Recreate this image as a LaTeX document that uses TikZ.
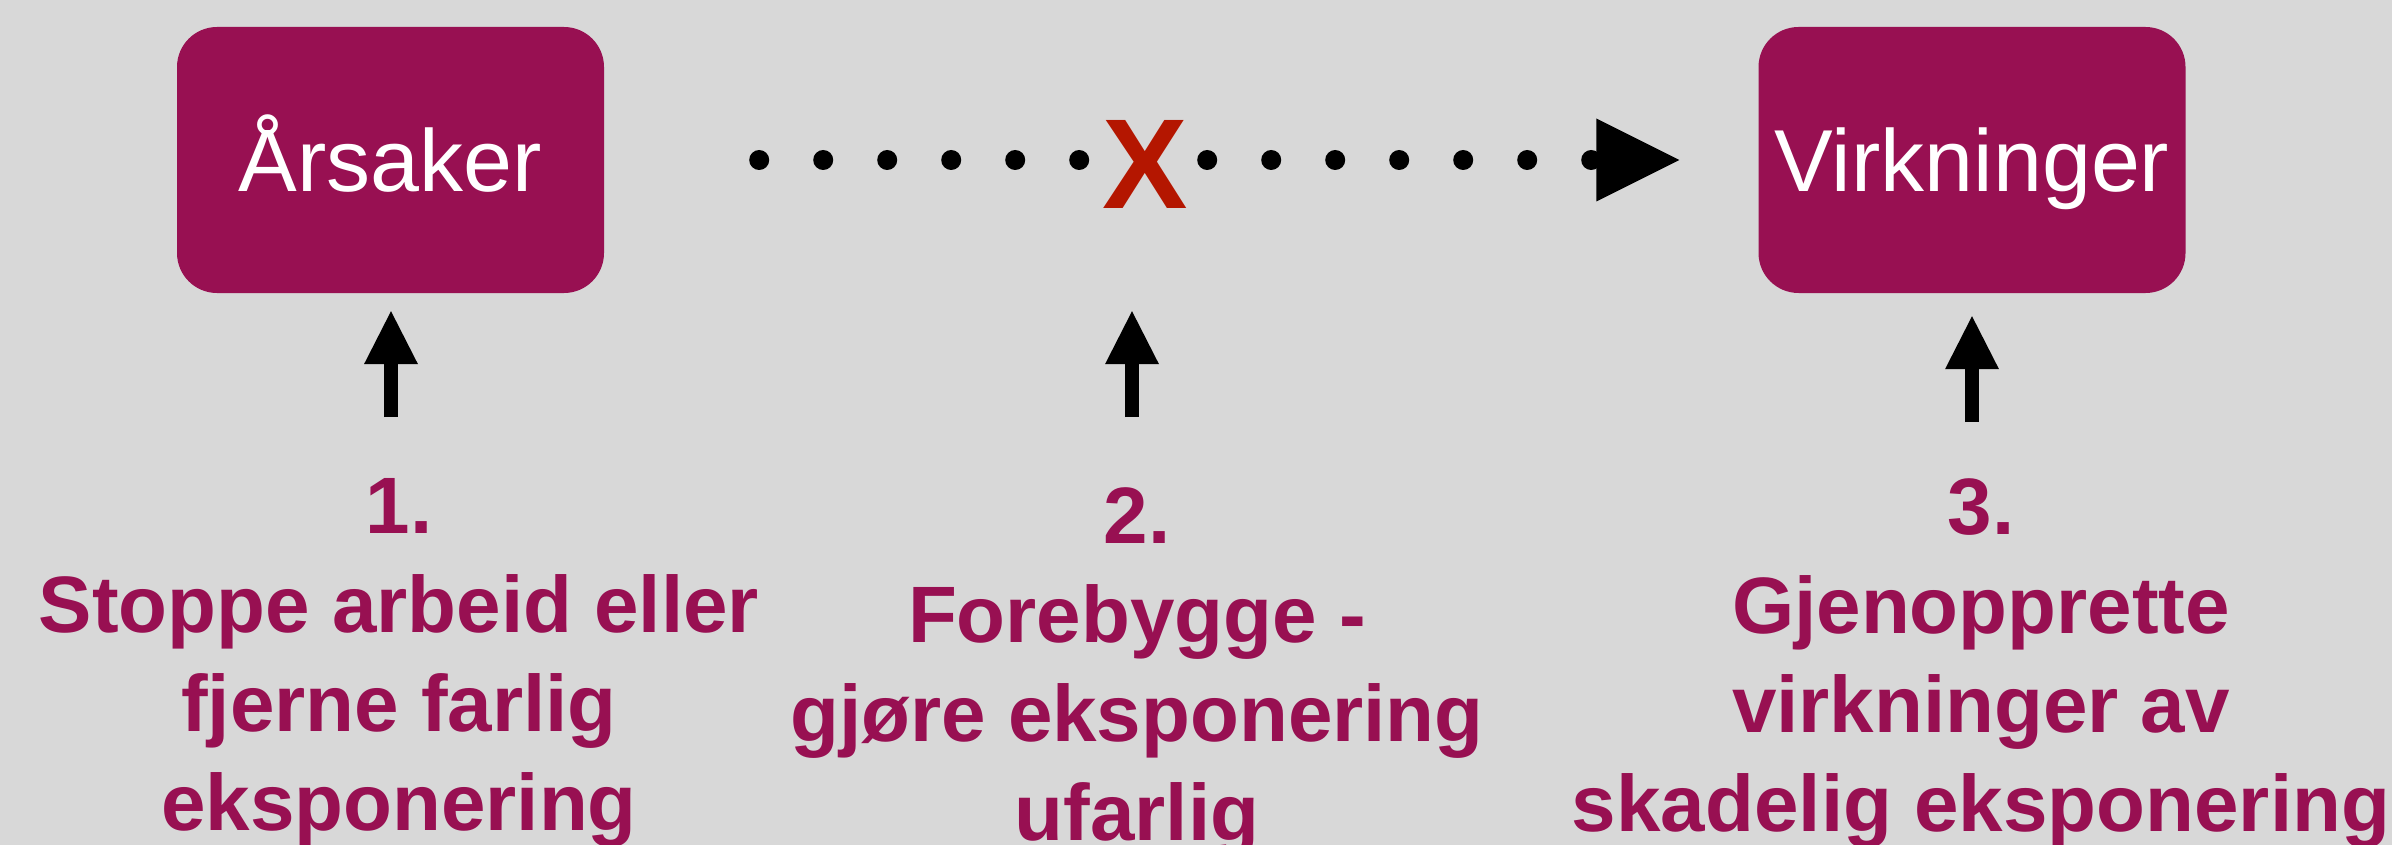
\documentclass[tikz,border=0pt]{standalone}
\usepackage{fontspec}
\setmainfont{Liberation Sans}
\usetikzlibrary{arrows.meta}
\definecolor{bgc}{RGB}{216,216,216}
\definecolor{plum}{RGB}{152,16,82}
\definecolor{xred}{RGB}{180,22,0}
\begin{document}
\begin{tikzpicture}[x=1pt,y=-1pt,
  stage/.style={fill=plum, rounded corners=40pt, minimum width=427pt,
    minimum height=266pt, inner sep=0pt, text=white,
    font=\fontsize{88}{100}\selectfont, text height=63pt, text depth=0pt},
  measure/.style={text=plum, font=\bfseries\fontsize{80}{99}\selectfont,
    align=center, inner sep=0pt, anchor=base},
  dotline/.style={line width=20pt, line cap=round, dash pattern=on 0pt off 64pt,
    -{Triangle[length=83pt,width=83pt,line width=0pt]}},
  uparrow/.style={line width=14pt,
    -{Triangle[length=53pt,width=54pt,line width=0pt]}}]
  % canvas
  \fill[bgc] (0,0) rectangle (2392,845);
  \useasboundingbox (0,0) rectangle (2392,845);

  % cause and effect
  \node[stage] (cause) at (390.5,160) {Årsaker};
  \node[stage] (effect) at (1972,160) {Virkninger};

  % broken chain between them
  \draw[dotline, shorten <=155pt, shorten >=79pt] (cause.east) -- (effect.west);
  \node[font=\bfseries\fontsize{128}{128}\selectfont, text=xred, fill=bgc,
    inner sep=0pt, anchor=base] (xmark) at (1145,208) {X};

  % the three measures
  \coordinate (p1) at (391,417);
  \coordinate (p2) at (1132,417);
  \coordinate (p3) at (1972,422);
  \draw[uparrow, shorten >=18pt] (p1) -- (p1 |- cause.south);
  \draw[uparrow, shorten >=103pt] (p2) -- (p2 |- xmark.south);
  \draw[uparrow, shorten >=23pt] (p3) -- (effect.south);

  % multi-line labels: the base anchor sits on the last line
  \node[measure] (m1) at (399,830) {1.\\Stoppe arbeid eller\\fjerne farlig\\eksponering};
  \node[measure] (m2) at (1137,840) {2.\\Forebygge -\\gjøre eksponering\\ufarlig};
  \node[measure] (m3) at (1981,831) {3.\\Gjenopprette\\virkninger av\\skadelig eksponering};
\end{tikzpicture}
\end{document}
